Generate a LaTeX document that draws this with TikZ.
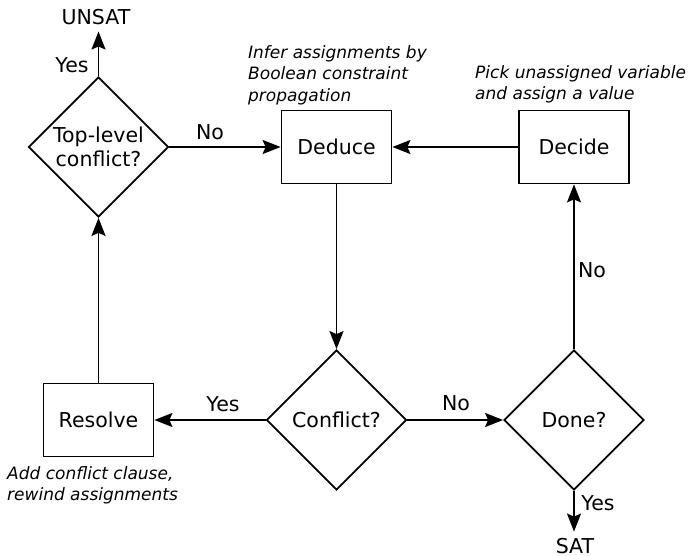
\documentclass[tikz,border=0pt]{standalone}
\usepackage{fontspec}
\setmainfont{DejaVu Sans}
\usetikzlibrary{shapes.geometric,arrows.meta}
\begin{document}
\begin{tikzpicture}[x=1pt,y=-1pt,
  every node/.style={font=\fontsize{20.5}{24}\selectfont},
  box/.style={draw,line width=1.8pt,minimum width=110pt,minimum height=73pt,inner sep=0pt},
  decision/.style={draw,diamond,aspect=1,line width=1.8pt,minimum width=140pt,minimum height=140pt,inner sep=0pt,align=center},
  note/.style={font=\fontsize{17}{21.5}\selectfont\itshape,align=left,inner sep=0pt,anchor=north west},
  lbl/.style={inner sep=0pt,anchor=base},
  arr/.style={line width=1.8pt,-{Stealth[length=18pt,width=14pt,inset=3pt]}},
  term/.style={inner xsep=0pt,inner ysep=6pt}]
\useasboundingbox (0,0) rectangle (691,556);
\node[decision] (top) at (98.5,147) {Top-level\\conflict?};
\node[box] (deduce) at (336.5,147) {Deduce};
\node[box] (decide) at (574,147) {Decide};
\node[box] (resolve) at (98.5,420) {Resolve};
\node[decision] (conflict) at (336.5,420) {Conflict?};
\node[decision] (done) at (574,420) {Done?};
\node[term,anchor=base] (unsat) at (96,25) {UNSAT};
\node[term,anchor=base] (sat) at (575,553) {SAT};
\node[note] (n1) at (248,45) {Infer assignments by\\Boolean constraint\\propagation};
\node[note] (n2) at (475,65) {Pick unassigned variable\\and assign a value};
\node[note] (n3) at (7,466) {Add conflict clause,\\rewind assignments};
\draw[arr] (top.east) -- (deduce.west);
\draw[arr] (decide.west) -- (deduce.east);
\draw[arr] (deduce.south) -- (conflict.north);
\draw[arr] (conflict.west) -- (resolve.east);
\draw[arr] (conflict.east) -- (done.west);
\draw[arr] (done.north) -- (decide.south);
\draw[arr] (done.south) -- (done.south |- sat.north);
\draw[arr] (resolve.north) -- (top.south);
\draw[arr] (top.north) -- (top.north |- unsat.south);
\node[lbl] (l1) at (72,73) {Yes};
\node[lbl] (l2) at (210,140) {No};
\node[lbl] (l3) at (223,411) {Yes};
\node[lbl] (l4) at (456,410) {No};
\node[lbl] (l5) at (592,278) {No};
\node[lbl] (l6) at (598,510) {Yes};
\end{tikzpicture}
\end{document}
